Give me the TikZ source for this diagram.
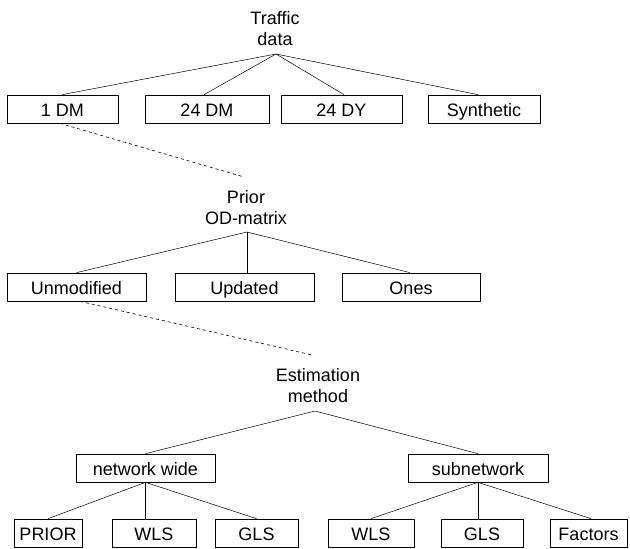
\documentclass[tikz,border=0pt]{standalone}
\usepackage{fontspec}
\setmainfont{Liberation Sans}
\usetikzlibrary{calc}

\tikzset{
  treebox/.style={draw, line width=0.7pt, minimum height=28pt, inner sep=0pt,
    text height=14.5pt, text depth=0pt,
    font=\fontsize{18}{21}\selectfont},
  treetitle/.style={align=center, inner sep=0pt,
    font=\fontsize{18}{21}\selectfont},
  branch/.style={line width=0.5pt},
  dashlink/.style={line width=0.6pt, dash pattern=on 3pt off 3pt},
}

\begin{document}
\begin{tikzpicture}[x=1pt, y=-1pt]
\useasboundingbox (0,0) rectangle (630,549);

% ---- level 1: traffic data
\node[treetitle] (traffic) at (275,28.5) {Traffic\\data};
\coordinate (tapex) at (276,54);
\node[treebox, minimum width=111pt] (dm1)  at (62.5,109) {1 DM};
\node[treebox, minimum width=124pt] (dm24) at (207,109) {24 DM};
\node[treebox, minimum width=121pt] (dy24) at (341.5,109) {24 DY};
\node[treebox, minimum width=112pt] (syn)  at (484,109) {Synthetic};
\draw[branch] (tapex) -- ($(dm1.north)+(-0.5,0)$);
\draw[branch] (tapex) -- ($(dm24.north)+(-3,0)$);
\draw[branch] (tapex) -- ($(dy24.north)+(2.5,0)$);
\draw[branch] (tapex) -- ($(syn.north)+(-6,0)$);

% ---- level 2: prior OD-matrix
\coordinate (pdash) at (244,177);
\draw[dashlink] ($(dm1.south)+(-2.5,0)$) -- (pdash);
\node[treetitle] (prior) at (246,207.5) {Prior\\OD-matrix};
\coordinate (papex) at (247,232);
\node[treebox, minimum width=139pt] (unmod) at (76.5,287) {Unmodified};
\node[treebox, minimum width=139pt] (upd)   at (244.5,287) {Updated};
\node[treebox, minimum width=138pt] (ones)  at (411,287) {Ones};
\draw[branch] (papex) -- (unmod.north);
\draw[branch] (papex) -- ($(upd.north)+(2.5,0)$);
\draw[branch] (papex) -- ($(ones.north)+(-1,0)$);

% ---- level 3: estimation method
\coordinate (edash) at (312,355);
\draw[dashlink] ($(unmod.south)+(3.5,0)$) -- (edash);
\node[treetitle] (estim) at (318,385.5) {Estimation\\method};
\coordinate (eapex) at (315,411);
\node[treebox, minimum width=139pt] (nw) at (145.5,468) {network wide};
\node[treebox, minimum width=140pt] (sn) at (478,468) {subnetwork};
\draw[branch] (eapex) -- (nw.north);
\draw[branch] (eapex) -- (sn.north);

% ---- level 4: network wide methods
\node[treebox, minimum width=68pt] (prio) at (48,533)  {PRIOR};
\node[treebox, minimum width=84pt] (wls1) at (154,533) {WLS};
\node[treebox, minimum width=83pt] (gls1) at (256.5,533) {GLS};
\draw[branch] (nw.south) -- (prio.north);
\draw[branch] (nw.south) -- (nw.south |- wls1.north);
\draw[branch] (nw.south) -- (gls1.north);

% ---- level 4: subnetwork methods
\node[treebox, minimum width=86pt] (wls2) at (371,533) {WLS};
\node[treebox, minimum width=82pt] (gls2) at (482,533) {GLS};
\node[treebox, minimum width=77pt] (fac)  at (588.5,533) {Factors};
\draw[branch] (sn.south) -- (wls2.north);
\draw[branch] (sn.south) -- (sn.south |- gls2.north);
\draw[branch] (sn.south) -- ($(fac.north)+(2.5,0)$);
\end{tikzpicture}
\end{document}
